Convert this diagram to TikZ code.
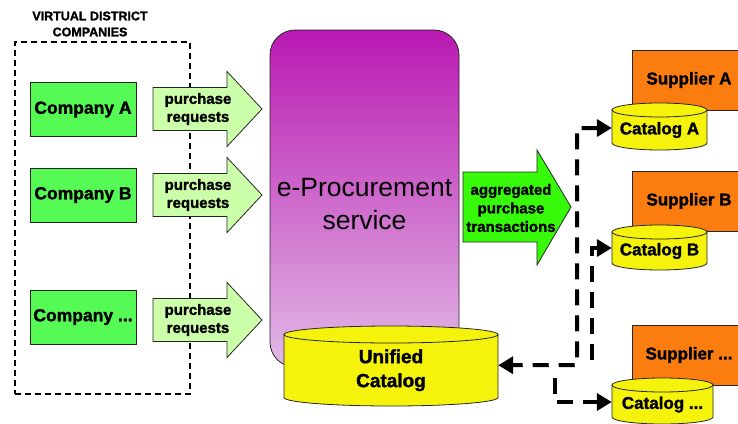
\documentclass[tikz,border=0pt]{standalone}
\usepackage{fontspec}
\setmainfont{Liberation Sans}[BoldFeatures={FakeBold=1.6}]
\usetikzlibrary{arrows.meta,calc}
\definecolor{compgreen}{RGB}{85,250,85}
\definecolor{reqgreen}{RGB}{204,255,170}
\definecolor{agggreen}{RGB}{55,250,10}
\definecolor{procTop}{RGB}{185,25,178}
\definecolor{procBot}{RGB}{226,186,230}
\definecolor{catyellow}{RGB}{245,242,12}
\definecolor{suporange}{RGB}{252,125,15}
\tikzset{
  outl/.style={draw=black!85, line width=0.8pt},
  company/.style={outl, fill=compgreen, minimum width=106pt, minimum height=54pt, inner sep=0pt,
    font=\bfseries\fontsize{17.5}{20}\selectfont},
  supplier/.style={outl, fill=suporange, minimum width=114pt, minimum height=60pt, inner sep=0pt,
    font=\bfseries\fontsize{17}{20}\selectfont},
  reqarrow/.style={outl, fill=reqgreen},
  reqtext/.style={align=center, inner sep=0pt, font=\bfseries\fontsize{15}{18}\selectfont},
  cylstyle/.style={outl, fill=catyellow},
  conn/.style={line width=4pt, draw=black, dash pattern=on 16pt off 10pt},
  tip/.style={-{Triangle[length=15pt,width=17pt]}},
  vbox/.style={draw=black, line width=2pt, dash pattern=on 6pt off 4pt}
}
\newcommand{\dbcyl}[8]{%
  \pgfmathsetmacro{\cylX}{(#2+#3)/2}%
  \pgfmathsetmacro{\cylR}{(#3-#2)/2}%
  \pgfmathsetmacro{\cylT}{#4+#6}%
  \pgfmathsetmacro{\cylB}{#5-#6}%
  \pgfmathsetmacro{\cylM}{(\cylT+#5)/2}%
  \pgfmathsetmacro{\cylW}{#3-#2}%
  \pgfmathsetmacro{\cylH}{#5-\cylT}%
  \filldraw[cylstyle] (#2,\cylT) -- (#2,\cylB) arc[start angle=180,end angle=0,x radius=\cylR,y radius=#6] -- (#3,\cylT) -- cycle;
  \filldraw[cylstyle] (\cylX,\cylT) ellipse[x radius=\cylR, y radius=#6];
  \node[font=#7, align=center, inner sep=0pt, minimum width=\cylW pt, minimum height=\cylH pt] (#1) at (\cylX,\cylM) {#8};
}
\begin{document}
\begin{tikzpicture}[x=1pt,y=-1pt]
\clip (0,0) rectangle (738,423);
\fill[white] (0,0) rectangle (738,423);

% virtual district box
\node[align=center, inner sep=0pt, font=\bfseries\fontsize{12.5}{16}\selectfont] (vtitle) at (90,24) {VIRTUAL DISTRICT\\COMPANIES};
\node[vbox, minimum width=175pt, minimum height=352pt, inner sep=0pt] (vdc) at (102.5,218) {};

% companies
\node[company] (compA) at (83,109.5) {Company A};
\node[company] (compB) at (83,195) {Company B};
\node[company] (compC) at (83,317) {Company ...};

% purchase request arrows
\foreach \cy/\nm in {109/reqA,195/reqB,320/reqC}{
  \filldraw[reqarrow] (153,\cy-21.5) -- (227,\cy-21.5) -- (227,\cy-37.5) -- (262,\cy) -- (227,\cy+37.5) -- (227,\cy+21.5) -- (153,\cy+21.5) -- cycle;
  \node[reqtext] (\nm) at (198,\cy) {purchase\\requests};
}

% e-Procurement service
\node[outl, top color=procTop, bottom color=procBot, rounded corners=25pt, minimum width=189pt, minimum height=337pt, inner sep=0pt] (proc) at (364.5,198.5) {};
\node[align=center, inner sep=0pt, font=\fontsize{26.5}{33}\selectfont] (proctext) at (364.5,204) {e-Procurement\\service};

% unified catalog
\dbcyl{ucat}{284}{498}{326}{406}{8.5}{\bfseries\fontsize{19}{24}\selectfont}{Unified\\Catalog}

% aggregated arrow
\filldraw[outl, fill=agggreen] (463,172) -- (537,172) -- (537,150) -- (571,207) -- (537,265) -- (537,242) -- (463,242) -- cycle;
\node[reqtext, font=\bfseries\fontsize{15}{18.5}\selectfont] (agg) at (511,208) {aggregated\\purchase\\transactions};

% suppliers
\node[supplier] (supA) at (689,80) {Supplier A};
\node[supplier] (supB) at (689,201) {Supplier B};
\node[supplier] (supC) at (689,355) {Supplier ...};

% catalogs
\dbcyl{catA}{612}{707}{103}{150}{7}{\bfseries\fontsize{17}{20}\selectfont}{Catalog A}
\dbcyl{catB}{612}{707}{225}{270}{7}{\bfseries\fontsize{17}{20}\selectfont}{Catalog B}
\dbcyl{catC}{612}{713}{378}{424}{7}{\bfseries\fontsize{17}{20}\selectfont}{Catalog ...}

% connectors
\coordinate (j1) at (577,365);
\coordinate (j2) at (592,360);
\coordinate (j3) at (555,378);
\draw[conn, {Triangle[length=15pt,width=17pt]}-{Triangle[length=15pt,width=17pt]}] ([yshift=2pt]catA.west) -| (j1) -- ([yshift=5pt]ucat.east);
\draw[conn, tip] (j2) |- ([yshift=3pt]catB.west);
\draw[conn, tip] (j3) |- ([yshift=2.5pt]catC.west);
\end{tikzpicture}
\end{document}
